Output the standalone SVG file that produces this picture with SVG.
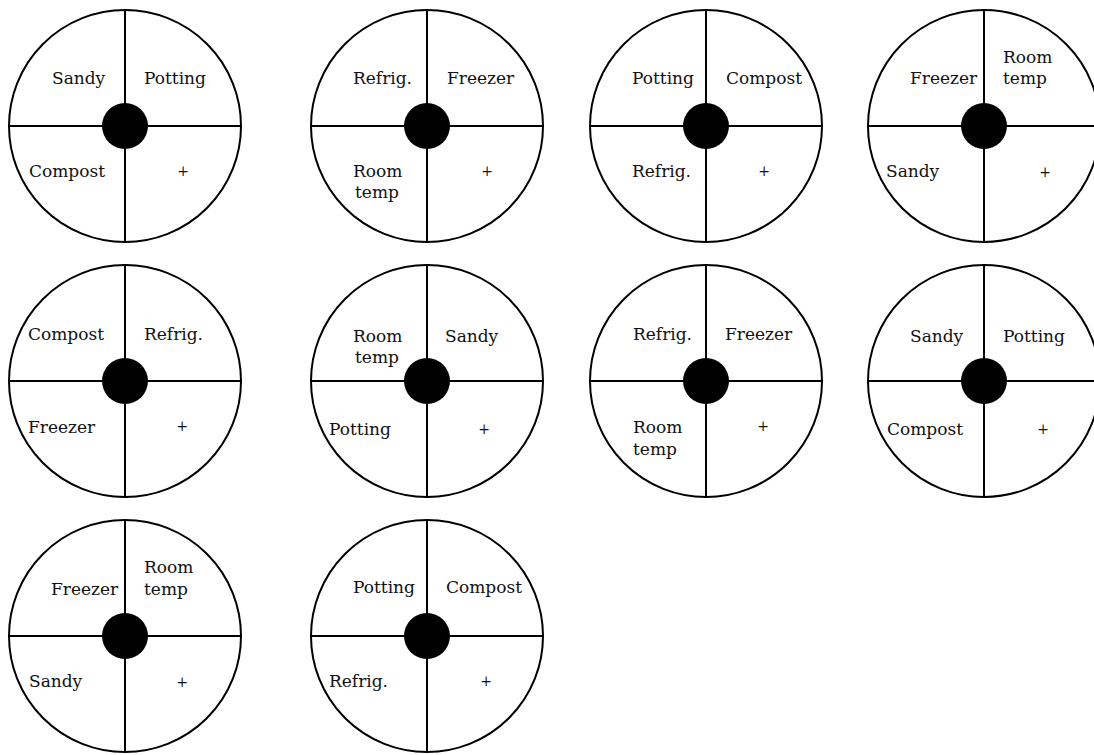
<svg xmlns="http://www.w3.org/2000/svg" width="1094" height="755" viewBox="0 0 1094 755">
<defs>
<style>
.ring{fill:#fff;stroke:#000;stroke-width:2}
.ln{stroke:#000;stroke-width:2;fill:none}
.dot{fill:#000}
.t{font-family:"DejaVu Serif","Liberation Serif",serif;font-size:17px;fill:#111}
.p{font-family:"DejaVu Serif","Liberation Serif",serif;font-size:14px;fill:#111;text-anchor:middle}
</style>
<g id="wheel">
<circle class="ring" cx="0" cy="0" r="116"/>
<line class="ln" x1="-116" y1="0" x2="116" y2="0"/>
<line class="ln" x1="0" y1="-116" x2="0" y2="116"/>
<circle class="dot" cx="0" cy="0" r="23"/>
</g>
</defs>
<rect width="1094" height="755" fill="#fff"/>
<g id="connectors"></g>

<g id="c1">
<use href="#wheel" x="125" y="126"/>
<text class="t" x="52" y="84">Sandy</text>
<text class="t" x="144" y="84">Potting</text>
<text class="t" x="29" y="177">Compost</text>
<text class="p" x="183" y="176">+</text>
</g>

<g id="c2">
<use href="#wheel" x="427" y="126"/>
<text class="t" x="353" y="84">Refrig.</text>
<text class="t" x="447" y="84">Freezer</text>
<text class="t" x="353" y="177">Room</text>
<text class="t" x="355" y="198">temp</text>
<text class="p" x="487" y="176">+</text>
</g>

<g id="c3">
<use href="#wheel" x="706" y="126"/>
<text class="t" x="632" y="84">Potting</text>
<text class="t" x="726" y="84">Compost</text>
<text class="t" x="632" y="177">Refrig.</text>
<text class="p" x="764" y="176">+</text>
</g>

<g id="c4">
<use href="#wheel" x="984" y="126"/>
<text class="t" x="910" y="84">Freezer</text>
<text class="t" x="1003" y="63">Room</text>
<text class="t" x="1003" y="84">temp</text>
<text class="t" x="886" y="177">Sandy</text>
<text class="p" x="1045" y="177">+</text>
</g>

<g id="c5">
<use href="#wheel" x="125" y="381"/>
<text class="t" x="28" y="340">Compost</text>
<text class="t" x="144" y="340">Refrig.</text>
<text class="t" x="28" y="433">Freezer</text>
<text class="p" x="182" y="431">+</text>
</g>

<g id="c6">
<use href="#wheel" x="427" y="381"/>
<text class="t" x="353" y="342">Room</text>
<text class="t" x="355" y="363">temp</text>
<text class="t" x="445" y="342">Sandy</text>
<text class="t" x="329" y="435">Potting</text>
<text class="p" x="484" y="434">+</text>
</g>

<g id="c7">
<use href="#wheel" x="706" y="381"/>
<text class="t" x="633" y="340">Refrig.</text>
<text class="t" x="725" y="340">Freezer</text>
<text class="t" x="633" y="433">Room</text>
<text class="t" x="633" y="455">temp</text>
<text class="p" x="763" y="431">+</text>
</g>

<g id="c8">
<use href="#wheel" x="984" y="381"/>
<text class="t" x="910" y="342">Sandy</text>
<text class="t" x="1003" y="342">Potting</text>
<text class="t" x="887" y="435">Compost</text>
<text class="p" x="1043" y="434">+</text>
</g>

<g id="c9">
<use href="#wheel" x="125" y="636"/>
<text class="t" x="51" y="595">Freezer</text>
<text class="t" x="144" y="573">Room</text>
<text class="t" x="144" y="595">temp</text>
<text class="t" x="29" y="687">Sandy</text>
<text class="p" x="182" y="687">+</text>
</g>

<g id="c10">
<use href="#wheel" x="427" y="636"/>
<text class="t" x="353" y="593">Potting</text>
<text class="t" x="446" y="593">Compost</text>
<text class="t" x="329" y="687">Refrig.</text>
<text class="p" x="486" y="686">+</text>
</g>
</svg>
